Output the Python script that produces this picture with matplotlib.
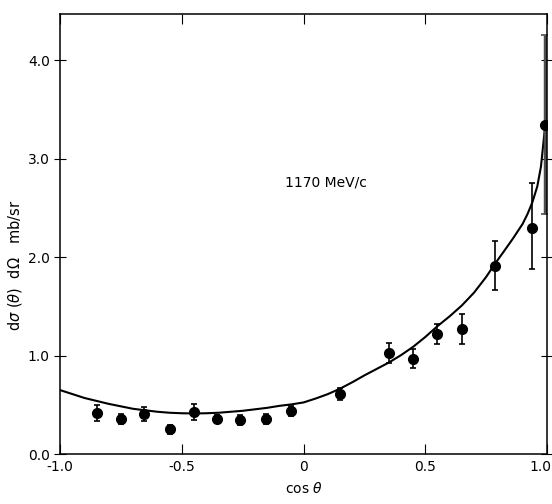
import numpy as np
import matplotlib.pyplot as plt
import matplotlib.transforms as mtransforms

# measured angular distribution, 1170 MeV/c
cos_theta = [-0.85, -0.75, -0.655, -0.55, -0.45, -0.355, -0.26, -0.155, -0.05,
             0.15, 0.35, 0.45, 0.55, 0.65, 0.785, 0.94]
dsigma = [0.42, 0.36, 0.41, 0.25, 0.43, 0.36, 0.35, 0.36, 0.44,
          0.61, 1.03, 0.97, 1.22, 1.27, 1.91, 2.30]
err_lo = [0.08, 0.05, 0.07, 0.05, 0.08, 0.04, 0.05, 0.05, 0.05,
          0.06, 0.10, 0.10, 0.10, 0.15, 0.24, 0.42]
err_hi = [0.08, 0.05, 0.07, 0.05, 0.08, 0.04, 0.05, 0.05, 0.05,
          0.06, 0.10, 0.10, 0.10, 0.15, 0.26, 0.45]

# forward point with its large error
fwd_x = [0.99]
fwd_y = [3.34]
fwd_lo = [0.90]
fwd_hi = [0.92]

# fitted curve
fit_x = [-1.0, -0.95, -0.9, -0.85, -0.8, -0.75, -0.7, -0.65, -0.6, -0.55, -0.5,
         -0.45, -0.4, -0.35, -0.3, -0.25, -0.2, -0.15, -0.1, -0.05, 0.0,
         0.05, 0.1, 0.15, 0.2, 0.25, 0.3, 0.35, 0.4, 0.45, 0.5, 0.55, 0.6,
         0.65, 0.7, 0.75, 0.785, 0.82, 0.86, 0.9, 0.92, 0.94, 0.96, 0.975, 0.99]
fit_y = [0.65, 0.61, 0.57, 0.54, 0.51, 0.485, 0.46, 0.445, 0.43, 0.42, 0.415,
         0.413, 0.415, 0.42, 0.43, 0.44, 0.455, 0.47, 0.49, 0.505, 0.525,
         0.565, 0.61, 0.665, 0.73, 0.80, 0.865, 0.93, 1.005, 1.09, 1.19, 1.30, 1.40,
         1.51, 1.64, 1.80, 1.93, 2.05, 2.19, 2.34, 2.44, 2.56, 2.72, 2.92, 3.28]

xticks = [-1.0, -0.5, 0, 0.5, 1.0]
xticklabels = ["-1.0", "-0.5", "0", "0.5", "1.0"]
yticks = [0.0, 1.0, 2.0, 3.0, 4.0]
yticklabels = ["0.0", "1.0", "2.0", "3.0", "4.0"]

fig = plt.figure(figsize=(5.52, 5.04), dpi=100)
ax = fig.add_axes([0.109, 0.099, 0.882, 0.873])

ax.plot(fit_x, fit_y, color="black", lw=1.5)
ax.errorbar(cos_theta, dsigma, yerr=[err_lo, err_hi], fmt="o", color="black",
            ms=7, elinewidth=1.2, capsize=2.5, capthick=1.2)
ax.errorbar(fwd_x, fwd_y, yerr=[fwd_lo, fwd_hi], fmt="o", color="black",
            ms=7, ecolor="0.3", elinewidth=2.5, capsize=3, capthick=1.2)

ax.text(0.09, 2.76, "1170 MeV/c", fontsize=10, ha="center", va="center")

ax.set_xlim(-1.0, 1.0)
ax.set_ylim(0.0, 4.47)
ax.set_xticks(xticks)
ax.set_xticklabels(xticklabels)
ax.set_yticks(yticks)
ax.set_yticklabels(yticklabels)
ax.tick_params(axis="x", direction="in", top=True, length=7, labelsize=10, pad=4)
ax.tick_params(axis="y", direction="inout", right=True, length=8, labelsize=10)
for sp in ax.spines.values():
    sp.set_linewidth(1.1)

# nudge the "1.0" at the right end so it stays on the page
last = ax.get_xticklabels()[-1]
last.set_transform(last.get_transform() +
                   mtransforms.ScaledTranslation(-5 / 72, 0, fig.dpi_scale_trans))

ax.set_xlabel(r"cos $\theta$", fontsize=10, labelpad=5)
ax.set_ylabel(r"d$\sigma$ ($\theta$)  d$\Omega$   mb/sr", fontsize=10.5)
ax.yaxis.set_label_coords(-0.074, 0.43)

fig.savefig("out.png", dpi=100)
